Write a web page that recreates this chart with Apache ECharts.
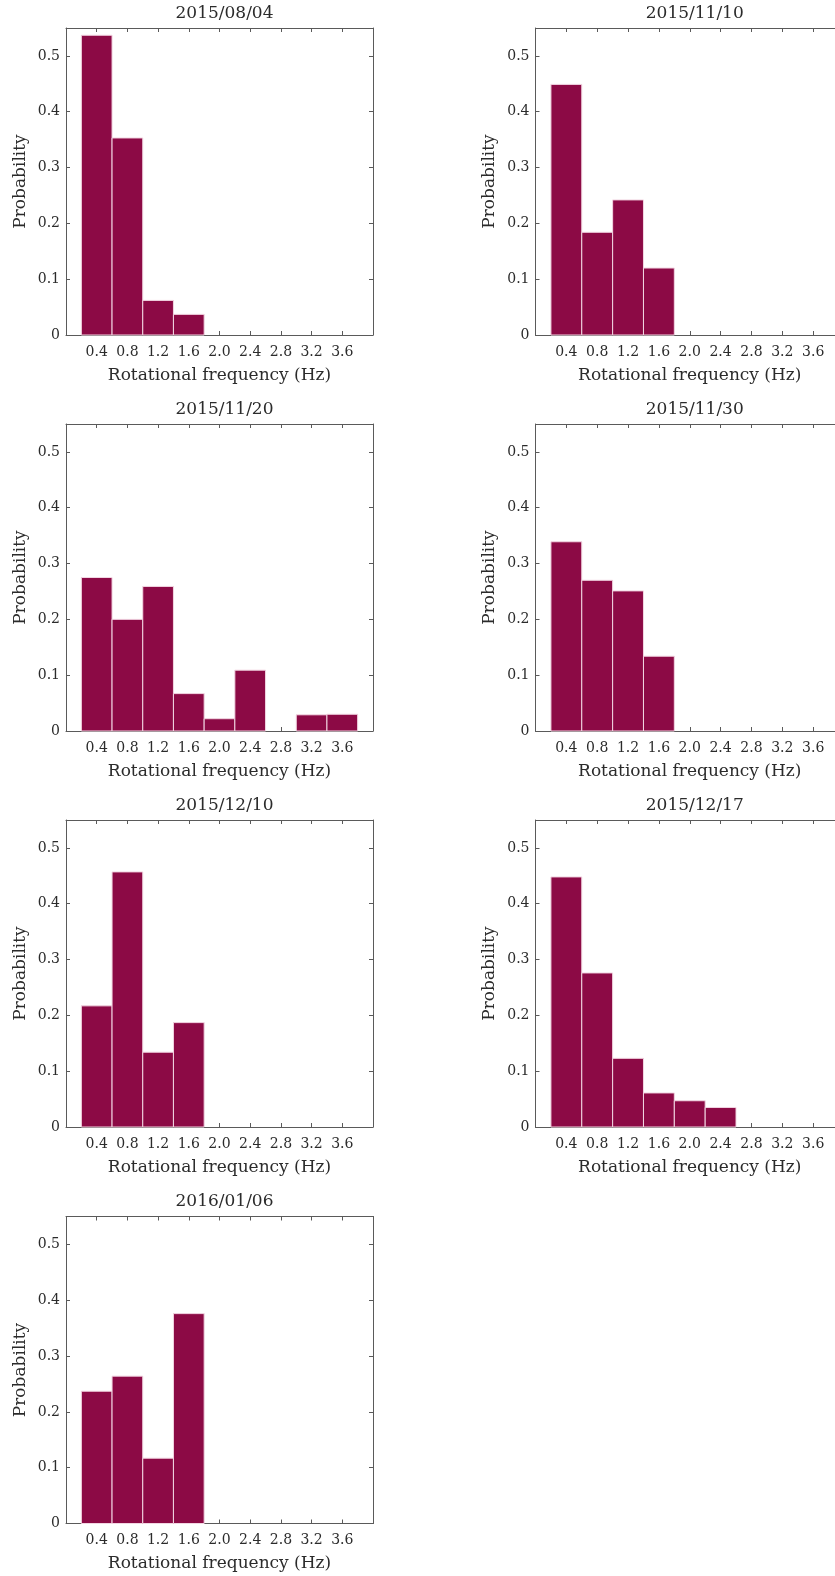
<!DOCTYPE html>
<html>
<head>
<meta charset="utf-8">
<script src="https://cdn.jsdelivr.net/npm/echarts@6/dist/echarts.min.js"></script>
<style>
  html, body { margin: 0; padding: 0; background: #ffffff; }
  #chart { width: 835px; height: 1576px; }
</style>
</head>
<body>
<div id="chart"></div>
<script>
// ---- data ----
const binCenters = [0.4, 0.8, 1.2, 1.6, 2.0, 2.4, 2.8, 3.2, 3.6];
const binWidth = 0.4;
const xTicks = [0.4, 0.8, 1.2, 1.6, 2.0, 2.4, 2.8, 3.2, 3.6];
const yTicks = [0, 0.1, 0.2, 0.3, 0.4, 0.5];

const titles = ['2015/08/04', '2015/11/10', '2015/11/20', '2015/11/30', '2015/12/10', '2015/12/17', '2016/01/06'];

const p20150804 = [0.537, 0.353, 0.062, 0.037, 0, 0, 0, 0, 0];
const p20151110 = [0.449, 0.184, 0.242, 0.120, 0, 0, 0, 0, 0];
const p20151120 = [0.275, 0.200, 0.259, 0.067, 0.022, 0.109, 0, 0.029, 0.030];
const p20151130 = [0.339, 0.270, 0.251, 0.134, 0, 0, 0, 0, 0];
const p20151210 = [0.217, 0.457, 0.134, 0.187, 0, 0, 0, 0, 0];
const p20151217 = [0.448, 0.276, 0.123, 0.061, 0.047, 0.035, 0, 0, 0];
const p20160106 = [0.237, 0.264, 0.117, 0.376, 0, 0, 0, 0, 0];

const seriesValues = [p20150804, p20151110, p20151120, p20151130, p20151210, p20151217, p20160106];

// ---- layout ----
const colLeft = [66, 535.5];
const colWidth = [307, 308.5];
const rowTop = [28, 424, 820, 1216.5];
const plotH = 307;

const barColor = '#8c0a45';
const edgeColor = '#f2d6e2';
const axisColor = '#5a5a5a';
const textColor = '#2b2b2b';
const font = 'DejaVu Serif';

const chart = echarts.init(document.getElementById('chart'), null, { renderer: 'canvas' });

const grids = [], xAxes = [], yAxes = [], series = [], titleOpts = [];

seriesValues.forEach((vals, i) => {
  const col = i % 2, row = Math.floor(i / 2);
  const left = colLeft[col], top = rowTop[row], w = colWidth[col];
  grids.push({ left: left, top: top, width: w, height: plotH, show: false, containLabel: false, outerBoundsMode: 'none' });
  titleOpts.push({
    text: titles[i],
    left: left + w / 2,
    top: top - 28,
    textAlign: 'center',
    textStyle: { fontFamily: font, fontSize: 17, fontWeight: 'normal', color: textColor }
  });
  const xBase = {
    type: 'value', gridIndex: i, min: 0, max: 4, interval: 0.4,
    axisLine: { show: true, onZero: false, lineStyle: { color: axisColor, width: 1 } },
    axisTick: { show: true, inside: true, length: 4, lineStyle: { color: axisColor } },
    splitLine: { show: false }
  };
  xAxes.push(Object.assign({}, xBase, {
    position: 'bottom',
    name: 'Rotational frequency (Hz)',
    nameLocation: 'middle',
    nameGap: 32,
    nameTextStyle: { fontFamily: font, fontSize: 17, color: textColor },
    axisLabel: {
      show: true, margin: 10, fontFamily: font, fontSize: 14, color: textColor,
      formatter: v => {
        const hit = xTicks.find(t => Math.abs(t - v) < 1e-6);
        return hit === undefined ? '' : hit.toFixed(1);
      }
    }
  }));
  xAxes.push(Object.assign({}, xBase, { position: 'top', axisLabel: { show: false } }));
  const yBase = {
    type: 'value', gridIndex: i, min: 0, max: 0.55, interval: 0.1,
    axisLine: { show: true, onZero: false, lineStyle: { color: axisColor, width: 1 } },
    axisTick: { show: true, inside: true, length: 4, lineStyle: { color: axisColor } },
    splitLine: { show: false }
  };
  yAxes.push(Object.assign({}, yBase, {
    position: 'left',
    name: 'Probability',
    nameLocation: 'middle',
    nameGap: 37,
    nameRotate: 90,
    nameTextStyle: { fontFamily: font, fontSize: 17, color: textColor },
    axisLabel: {
      show: true, margin: 6, fontFamily: font, fontSize: 14, color: textColor,
      formatter: v => {
        const hit = yTicks.find(t => Math.abs(t - v) < 1e-6);
        if (hit === undefined) return '';
        return hit === 0 ? '0' : hit.toFixed(1);
      }
    }
  }));
  yAxes.push(Object.assign({}, yBase, { position: 'right', axisLabel: { show: false } }));

  series.push({
    type: 'custom',
    xAxisIndex: 2 * i,
    yAxisIndex: 2 * i,
    data: binCenters.map((c, k) => [c, vals[k]]),
    encode: { x: 0, y: 1 },
    renderItem: (params, api) => {
      const x = api.value(0), y = api.value(1);
      if (!y) return null;
      const p0 = api.coord([x - binWidth / 2, y]);
      const p1 = api.coord([x + binWidth / 2, 0]);
      return {
        type: 'rect',
        shape: { x: p0[0], y: p0[1], width: p1[0] - p0[0], height: p1[1] - p0[1] },
        style: { fill: barColor, stroke: edgeColor, lineWidth: 1 }
      };
    }
  });
});

chart.setOption({
  backgroundColor: '#ffffff',
  animation: false,
  title: titleOpts,
  grid: grids,
  xAxis: xAxes,
  yAxis: yAxes,
  series: series
});
</script>
</body>
</html>
